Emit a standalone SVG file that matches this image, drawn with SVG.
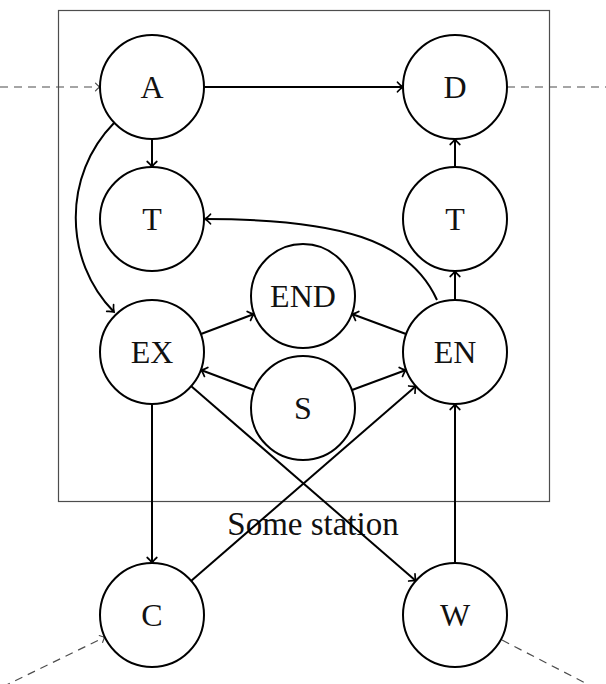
<svg xmlns="http://www.w3.org/2000/svg" width="606" height="684" viewBox="0 0 606 684">
  <style>
    .node circle { fill: #ffffff; stroke: #000000; stroke-width: 2; }
    .node text { font-family: "Liberation Serif", "DejaVu Serif", serif; font-size: 32px; fill: #111111; text-anchor: middle; }
    .edge { fill: none; stroke: #000000; stroke-width: 2; marker-end: url(#tip); }
    .ext { fill: none; stroke: #4d4d4d; stroke-width: 1.2; stroke-dasharray: 8 6; }
    .frame { fill: none; stroke: #4d4d4d; stroke-width: 1.2; }
    .caption { font-family: "Liberation Serif", "DejaVu Serif", serif; font-size: 33px; fill: #111111; text-anchor: middle; }
  </style>
  <defs>
    <marker id="tip" markerUnits="userSpaceOnUse" markerWidth="14" markerHeight="14" viewBox="-8 -7 10 14" refX="0" refY="0" orient="auto">
      <path d="M -5.5,-4.8 C -3,-1.8 -1,-0.6 0,0 C -1,0.6 -3,1.8 -5.5,4.8" fill="none" stroke="#000000" stroke-width="1.7" stroke-linecap="round"/>
    </marker>
    <marker id="tipgray" markerUnits="userSpaceOnUse" markerWidth="12" markerHeight="12" viewBox="-7 -6 9 12" refX="0" refY="0" orient="auto">
      <path d="M -4.5,-3.8 C -2.5,-1.5 -0.8,-0.5 0,0 C -0.8,0.5 -2.5,1.5 -4.5,3.8" fill="none" stroke="#4d4d4d" stroke-width="1.2" stroke-linecap="round"/>
    </marker>
  </defs>

  <!-- station frame and caption -->
  <rect class="frame" x="58.5" y="10.5" width="491" height="491"/>
  <text class="caption" x="313" y="535">Some station</text>

  <!-- connectors -->
  <g id="connectors">
    <line class="ext" x1="0" y1="87" x2="100" y2="87" marker-end="url(#tipgray)"/>
    <line class="ext" x1="507" y1="87" x2="606" y2="87"/>
    <line class="ext" x1="-10" y1="693" x2="105" y2="637" marker-end="url(#tipgray)"/>
    <line class="ext" x1="502" y1="640" x2="620" y2="701"/>

    <line class="edge" x1="204" y1="87" x2="403" y2="87"/>
    <line class="edge" x1="152" y1="139" x2="152" y2="167"/>
    <path class="edge" d="M 114,123 C 63,175 63,260 114,312"/>
    <path class="edge" d="M 437,300 C 410,240 340,219 205,219"/>
    <line class="edge" x1="455" y1="167" x2="455" y2="139"/>
    <line class="edge" x1="455" y1="300" x2="455" y2="271"/>
    <line class="edge" x1="201" y1="334" x2="254" y2="314"/>
    <line class="edge" x1="406" y1="334" x2="352" y2="314"/>
    <line class="edge" x1="254" y1="390" x2="201" y2="370"/>
    <line class="edge" x1="352" y1="390" x2="406" y2="370"/>
    <line class="edge" x1="152" y1="404" x2="152" y2="563"/>
    <line class="edge" x1="191" y1="386" x2="416" y2="581"/>
    <line class="edge" x1="191" y1="581" x2="416" y2="386"/>
    <line class="edge" x1="455" y1="563" x2="455" y2="404"/>
  </g>

  <!-- nodes -->
  <g id="node-A" class="node"><circle cx="152" cy="87" r="52"/><text x="152" y="98">A</text></g>
  <g id="node-D" class="node"><circle cx="455" cy="87" r="52"/><text x="455" y="98">D</text></g>
  <g id="node-T1" class="node"><circle cx="152" cy="219" r="52"/><text x="152" y="230">T</text></g>
  <g id="node-T2" class="node"><circle cx="455" cy="219" r="52"/><text x="455" y="230">T</text></g>
  <g id="node-END" class="node"><circle cx="303" cy="296" r="52"/><text x="303" y="307">END</text></g>
  <g id="node-EX" class="node"><circle cx="152" cy="352" r="52"/><text x="152" y="363">EX</text></g>
  <g id="node-EN" class="node"><circle cx="455" cy="352" r="52"/><text x="455" y="363">EN</text></g>
  <g id="node-S" class="node"><circle cx="303" cy="408" r="52"/><text x="303" y="419">S</text></g>
  <g id="node-C" class="node"><circle cx="152" cy="615" r="52"/><text x="152" y="626">C</text></g>
  <g id="node-W" class="node"><circle cx="455" cy="615" r="52"/><text x="455" y="626">W</text></g>
</svg>
